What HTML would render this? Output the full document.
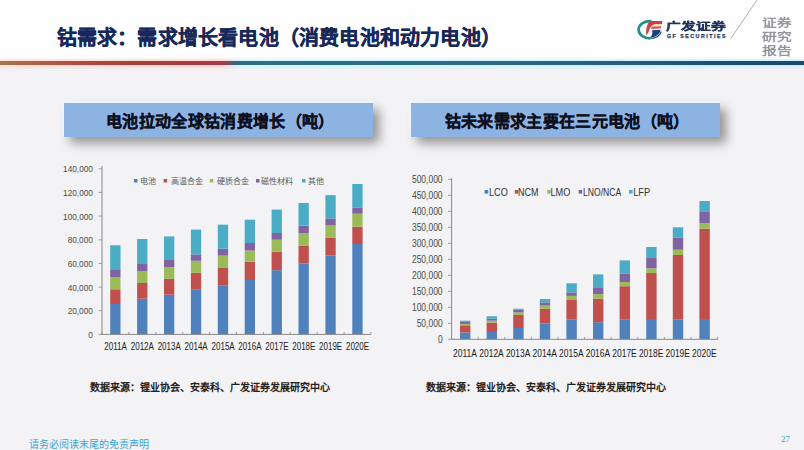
<!DOCTYPE html>
<html lang="zh-CN"><head><meta charset="utf-8">
<style>
*{margin:0;padding:0;box-sizing:border-box}
html,body{width:804px;height:450px;overflow:hidden}
body{position:relative;background:#f3f2f5;font-family:"Liberation Sans",sans-serif;color:#222}
.abs{position:absolute;white-space:nowrap}
#hdr{position:absolute;left:0;top:0;width:804px;height:62px;background:#fefefe}
#line{position:absolute;left:0;top:61px;width:804px;height:4px;
 background:linear-gradient(to right,#ad7350 0%,#b25c49 5%,#ab4642 12%,#a73e3e 17%,#aa3b45 26%,#a83a4a 27.6%,#2b6a82 29.4%,#2c7088 34%,#2b6b86 58%,#27607f 75%,#204c70 90%,#1e486c 100%);
 }
#halo{position:absolute;left:0;top:58.5px;width:804px;height:9px;filter:blur(1.2px);background:linear-gradient(to right,#fbe3d6 0%,#fbd9d6 28%,#d6f3fb 30%,#d0f0fa 100%)}
#title{left:56.5px;top:26.3px;font-size:20px;letter-spacing:0.21px;font-weight:bold;color:#17285a;line-height:24px;-webkit-text-stroke:0.35px #17285a}
.box{position:absolute;top:103px;width:309px;height:34px;background:#8db3e2;box-shadow:-1px -1px 0 1px rgba(236,246,255,.85),6px 6px 10px rgba(0,0,0,.4);
 font-size:16px;letter-spacing:0.33px;font-weight:bold;color:#0d1020;-webkit-text-stroke:0.3px #0d1020;text-align:center;line-height:37.5px;padding-left:3.5px}
.src{font-family:"Liberation Serif",serif;font-size:10px;font-weight:bold;color:#222;top:382px;line-height:12px}
#foot{left:28.5px;top:438.5px;font-family:"Liberation Serif",serif;font-size:10px;color:#3aa5d8;line-height:12px}
#pg{left:781px;top:433.5px;font-family:"Liberation Serif",serif;font-size:9px;color:#30a6b6;line-height:10px}
.zq{left:761.5px;font-size:14.8px;font-weight:bold;color:#9696a0;line-height:16px;transform:scaleY(0.8);transform-origin:0 0}
#gf{left:666px;top:21.2px;font-size:14.8px;font-weight:bold;color:#22355f;-webkit-text-stroke:0.45px #22355f;letter-spacing:0;line-height:16px;transform:scaleY(0.72);transform-origin:0 0}
#gfe{left:667px;top:33.6px;font-size:5.2px;font-weight:bold;color:#23345e;-webkit-text-stroke:0.25px #23345e;letter-spacing:1.55px;line-height:5px}
.leg{font-family:"Liberation Serif",serif;font-size:8px;color:#5a5a5a;line-height:10px}
svg text{font-family:"Liberation Sans",sans-serif}
</style></head><body>
<div id="hdr"></div>
<div id="halo"></div><div id="line"></div>
<div class="abs" id="title">钴需求：需求增长看电池（消费电池和动力电池）</div>
<svg class="abs" style="left:0;top:0" width="804" height="450" viewBox="0 0 804 450">
 <!-- logo -->
 <g>
  <path d="M651.5 21.2 C644 20.8 638.6 24.5 638.6 29.6 C638.6 34.6 643.5 38.2 650.5 38.3" fill="none" stroke="#23918c" stroke-width="2.7"/>
  <path d="M650.5 38.3 C656 38.2 660 35.5 661.2 31.5" fill="none" stroke="#1f5a80" stroke-width="1.2"/>
  <path d="M650 21 L662.5 21 L661.8 24.2 L654.5 24.3 C651.5 25 649.5 28 648.5 32 L646.5 35.5 C645.5 31 646.5 24 650 21 Z" fill="#cf3f3c"/>
  <path d="M651.5 26.6 L661.3 26.2 L660.6 28.6 L651 29 Z" fill="#d65a4f"/>
  <path d="M652 30.2 L660.5 29.8 C660 34.5 655.5 37.6 649.8 37.5 C652.5 35.5 652.8 33 652 30.2 Z" fill="#203f7d"/>
 </g>
 <line x1="730.7" y1="38.7" x2="757" y2="0" stroke="#9a9aa0" stroke-width="0.8"/>
 <!-- bars -->
 <rect x="110.2" y="304.0" width="10.3" height="30.4" fill="#4f81bd"/>
<rect x="110.2" y="289.3" width="10.3" height="14.7" fill="#c0504d"/>
<rect x="110.2" y="277.3" width="10.3" height="12.0" fill="#9bbb59"/>
<rect x="110.2" y="270.0" width="10.3" height="7.3" fill="#8064a2"/>
<rect x="110.2" y="245.3" width="10.3" height="24.7" fill="#4bacc6"/>
<rect x="137.1" y="298.7" width="10.3" height="35.7" fill="#4f81bd"/>
<rect x="137.1" y="283.0" width="10.3" height="15.7" fill="#c0504d"/>
<rect x="137.1" y="271.0" width="10.3" height="12.0" fill="#9bbb59"/>
<rect x="137.1" y="264.0" width="10.3" height="7.0" fill="#8064a2"/>
<rect x="137.1" y="239.0" width="10.3" height="25.0" fill="#4bacc6"/>
<rect x="164.0" y="294.7" width="10.3" height="39.7" fill="#4f81bd"/>
<rect x="164.0" y="278.7" width="10.3" height="16.0" fill="#c0504d"/>
<rect x="164.0" y="267.0" width="10.3" height="11.7" fill="#9bbb59"/>
<rect x="164.0" y="260.0" width="10.3" height="7.0" fill="#8064a2"/>
<rect x="164.0" y="236.4" width="10.3" height="23.6" fill="#4bacc6"/>
<rect x="190.9" y="289.7" width="10.3" height="44.7" fill="#4f81bd"/>
<rect x="190.9" y="272.8" width="10.3" height="16.9" fill="#c0504d"/>
<rect x="190.9" y="260.8" width="10.3" height="12.0" fill="#9bbb59"/>
<rect x="190.9" y="254.4" width="10.3" height="6.4" fill="#8064a2"/>
<rect x="190.9" y="229.6" width="10.3" height="24.8" fill="#4bacc6"/>
<rect x="217.8" y="285.3" width="10.3" height="49.1" fill="#4f81bd"/>
<rect x="217.8" y="268.0" width="10.3" height="17.3" fill="#c0504d"/>
<rect x="217.8" y="255.6" width="10.3" height="12.4" fill="#9bbb59"/>
<rect x="217.8" y="248.7" width="10.3" height="6.9" fill="#8064a2"/>
<rect x="217.8" y="224.7" width="10.3" height="24.0" fill="#4bacc6"/>
<rect x="244.7" y="280.0" width="10.3" height="54.4" fill="#4f81bd"/>
<rect x="244.7" y="261.7" width="10.3" height="18.3" fill="#c0504d"/>
<rect x="244.7" y="250.5" width="10.3" height="11.2" fill="#9bbb59"/>
<rect x="244.7" y="243.0" width="10.3" height="7.5" fill="#8064a2"/>
<rect x="244.7" y="219.7" width="10.3" height="23.3" fill="#4bacc6"/>
<rect x="271.6" y="270.2" width="10.3" height="64.2" fill="#4f81bd"/>
<rect x="271.6" y="251.8" width="10.3" height="18.4" fill="#c0504d"/>
<rect x="271.6" y="239.7" width="10.3" height="12.1" fill="#9bbb59"/>
<rect x="271.6" y="233.0" width="10.3" height="6.7" fill="#8064a2"/>
<rect x="271.6" y="209.6" width="10.3" height="23.4" fill="#4bacc6"/>
<rect x="298.5" y="263.4" width="10.3" height="71.0" fill="#4f81bd"/>
<rect x="298.5" y="245.5" width="10.3" height="17.9" fill="#c0504d"/>
<rect x="298.5" y="233.0" width="10.3" height="12.5" fill="#9bbb59"/>
<rect x="298.5" y="225.7" width="10.3" height="7.3" fill="#8064a2"/>
<rect x="298.5" y="203.0" width="10.3" height="22.7" fill="#4bacc6"/>
<rect x="325.4" y="255.5" width="10.3" height="78.9" fill="#4f81bd"/>
<rect x="325.4" y="237.5" width="10.3" height="18.0" fill="#c0504d"/>
<rect x="325.4" y="225.5" width="10.3" height="12.0" fill="#9bbb59"/>
<rect x="325.4" y="218.4" width="10.3" height="7.1" fill="#8064a2"/>
<rect x="325.4" y="195.2" width="10.3" height="23.2" fill="#4bacc6"/>
<rect x="352.3" y="244.0" width="10.3" height="90.4" fill="#4f81bd"/>
<rect x="352.3" y="226.7" width="10.3" height="17.3" fill="#c0504d"/>
<rect x="352.3" y="213.7" width="10.3" height="13.0" fill="#9bbb59"/>
<rect x="352.3" y="207.4" width="10.3" height="6.3" fill="#8064a2"/>
<rect x="352.3" y="184.0" width="10.3" height="23.4" fill="#4bacc6"/>
<rect x="460.0" y="332.5" width="10.4" height="6.8" fill="#4f81bd"/>
<rect x="460.0" y="325.3" width="10.4" height="7.2" fill="#c0504d"/>
<rect x="460.0" y="323.9" width="10.4" height="1.4" fill="#9bbb59"/>
<rect x="460.0" y="321.9" width="10.4" height="2.0" fill="#8064a2"/>
<rect x="460.0" y="320.7" width="10.4" height="1.2" fill="#4bacc6"/>
<rect x="486.6" y="332.0" width="10.4" height="7.3" fill="#4f81bd"/>
<rect x="486.6" y="322.6" width="10.4" height="9.4" fill="#c0504d"/>
<rect x="486.6" y="320.6" width="10.4" height="2.0" fill="#9bbb59"/>
<rect x="486.6" y="318.7" width="10.4" height="1.9" fill="#8064a2"/>
<rect x="486.6" y="316.2" width="10.4" height="2.5" fill="#4bacc6"/>
<rect x="513.2" y="328.0" width="10.4" height="11.3" fill="#4f81bd"/>
<rect x="513.2" y="314.9" width="10.4" height="13.1" fill="#c0504d"/>
<rect x="513.2" y="312.4" width="10.4" height="2.5" fill="#9bbb59"/>
<rect x="513.2" y="309.5" width="10.4" height="2.9" fill="#8064a2"/>
<rect x="513.2" y="308.7" width="10.4" height="0.8" fill="#4bacc6"/>
<rect x="539.8" y="323.6" width="10.4" height="15.7" fill="#4f81bd"/>
<rect x="539.8" y="308.7" width="10.4" height="14.9" fill="#c0504d"/>
<rect x="539.8" y="305.5" width="10.4" height="3.2" fill="#9bbb59"/>
<rect x="539.8" y="302.4" width="10.4" height="3.1" fill="#8064a2"/>
<rect x="539.8" y="299.0" width="10.4" height="3.4" fill="#4bacc6"/>
<rect x="566.4" y="319.7" width="10.4" height="19.6" fill="#4f81bd"/>
<rect x="566.4" y="300.0" width="10.4" height="19.7" fill="#c0504d"/>
<rect x="566.4" y="295.9" width="10.4" height="4.1" fill="#9bbb59"/>
<rect x="566.4" y="292.3" width="10.4" height="3.6" fill="#8064a2"/>
<rect x="566.4" y="283.3" width="10.4" height="9.0" fill="#4bacc6"/>
<rect x="593.0" y="322.2" width="10.4" height="17.1" fill="#4f81bd"/>
<rect x="593.0" y="298.8" width="10.4" height="23.4" fill="#c0504d"/>
<rect x="593.0" y="294.2" width="10.4" height="4.6" fill="#9bbb59"/>
<rect x="593.0" y="288.0" width="10.4" height="6.2" fill="#8064a2"/>
<rect x="593.0" y="274.4" width="10.4" height="13.6" fill="#4bacc6"/>
<rect x="619.6" y="319.7" width="10.4" height="19.6" fill="#4f81bd"/>
<rect x="619.6" y="286.2" width="10.4" height="33.5" fill="#c0504d"/>
<rect x="619.6" y="282.0" width="10.4" height="4.2" fill="#9bbb59"/>
<rect x="619.6" y="273.4" width="10.4" height="8.6" fill="#8064a2"/>
<rect x="619.6" y="260.4" width="10.4" height="13.0" fill="#4bacc6"/>
<rect x="646.2" y="319.0" width="10.4" height="20.3" fill="#4f81bd"/>
<rect x="646.2" y="273.0" width="10.4" height="46.0" fill="#c0504d"/>
<rect x="646.2" y="268.3" width="10.4" height="4.7" fill="#9bbb59"/>
<rect x="646.2" y="258.0" width="10.4" height="10.3" fill="#8064a2"/>
<rect x="646.2" y="247.0" width="10.4" height="11.0" fill="#4bacc6"/>
<rect x="672.8" y="319.3" width="10.4" height="20.0" fill="#4f81bd"/>
<rect x="672.8" y="255.0" width="10.4" height="64.3" fill="#c0504d"/>
<rect x="672.8" y="249.7" width="10.4" height="5.3" fill="#9bbb59"/>
<rect x="672.8" y="237.4" width="10.4" height="12.3" fill="#8064a2"/>
<rect x="672.8" y="227.3" width="10.4" height="10.1" fill="#4bacc6"/>
<rect x="699.4" y="319.0" width="10.4" height="20.3" fill="#4f81bd"/>
<rect x="699.4" y="228.7" width="10.4" height="90.3" fill="#c0504d"/>
<rect x="699.4" y="223.0" width="10.4" height="5.7" fill="#9bbb59"/>
<rect x="699.4" y="211.3" width="10.4" height="11.7" fill="#8064a2"/>
<rect x="699.4" y="201.0" width="10.4" height="10.3" fill="#4bacc6"/>

 <!-- axes -->
 <g stroke="#8a8a8a" stroke-width="1">
  <line x1="102" y1="166" x2="102" y2="334.4"/>
  <line x1="102" y1="334.4" x2="371" y2="334.4"/>
  <line x1="451.6" y1="178" x2="451.6" y2="339.3"/>
  <line x1="451.6" y1="339.3" x2="718" y2="339.3"/>
  
 </g>
 <g stroke="#8a8a8a" stroke-width="0.8">
 <line x1="98.5" y1="334.4" x2="102" y2="334.4"/><line x1="98.5" y1="310.7" x2="102" y2="310.7"/><line x1="98.5" y1="287.1" x2="102" y2="287.1"/><line x1="98.5" y1="263.4" x2="102" y2="263.4"/><line x1="98.5" y1="239.8" x2="102" y2="239.8"/><line x1="98.5" y1="216.1" x2="102" y2="216.1"/><line x1="98.5" y1="192.4" x2="102" y2="192.4"/><line x1="98.5" y1="168.8" x2="102" y2="168.8"/>
 <line x1="448" y1="339.3" x2="451.6" y2="339.3"/><line x1="448" y1="323.3" x2="451.6" y2="323.3"/><line x1="448" y1="307.3" x2="451.6" y2="307.3"/><line x1="448" y1="291.3" x2="451.6" y2="291.3"/><line x1="448" y1="275.3" x2="451.6" y2="275.3"/><line x1="448" y1="259.3" x2="451.6" y2="259.3"/><line x1="448" y1="243.3" x2="451.6" y2="243.3"/><line x1="448" y1="227.3" x2="451.6" y2="227.3"/><line x1="448" y1="211.3" x2="451.6" y2="211.3"/><line x1="448" y1="195.3" x2="451.6" y2="195.3"/><line x1="448" y1="179.3" x2="451.6" y2="179.3"/>
 <line x1="102.0" y1="331.9" x2="102.0" y2="334.4"/>
<line x1="128.9" y1="331.9" x2="128.9" y2="334.4"/>
<line x1="155.8" y1="331.9" x2="155.8" y2="334.4"/>
<line x1="182.7" y1="331.9" x2="182.7" y2="334.4"/>
<line x1="209.6" y1="331.9" x2="209.6" y2="334.4"/>
<line x1="236.5" y1="331.9" x2="236.5" y2="334.4"/>
<line x1="263.4" y1="331.9" x2="263.4" y2="334.4"/>
<line x1="290.3" y1="331.9" x2="290.3" y2="334.4"/>
<line x1="317.2" y1="331.9" x2="317.2" y2="334.4"/>
<line x1="344.1" y1="331.9" x2="344.1" y2="334.4"/>
<line x1="371.0" y1="331.9" x2="371.0" y2="334.4"/>
 <line x1="451.6" y1="336.8" x2="451.6" y2="339.3"/>
<line x1="478.2" y1="336.8" x2="478.2" y2="339.3"/>
<line x1="504.8" y1="336.8" x2="504.8" y2="339.3"/>
<line x1="531.4" y1="336.8" x2="531.4" y2="339.3"/>
<line x1="558.0" y1="336.8" x2="558.0" y2="339.3"/>
<line x1="584.6" y1="336.8" x2="584.6" y2="339.3"/>
<line x1="611.2" y1="336.8" x2="611.2" y2="339.3"/>
<line x1="637.8" y1="336.8" x2="637.8" y2="339.3"/>
<line x1="664.4" y1="336.8" x2="664.4" y2="339.3"/>
<line x1="691.0" y1="336.8" x2="691.0" y2="339.3"/>
<line x1="717.6" y1="336.8" x2="717.6" y2="339.3"/>
 </g>
 <g font-size="9.5" fill="#4a4a4a">
 <text transform="translate(92.9 337.8) scale(0.87 1)" text-anchor="end">0</text><text transform="translate(92.9 314.1) scale(0.87 1)" text-anchor="end">20,000</text><text transform="translate(92.9 290.5) scale(0.87 1)" text-anchor="end">40,000</text><text transform="translate(92.9 266.8) scale(0.87 1)" text-anchor="end">60,000</text><text transform="translate(92.9 243.2) scale(0.87 1)" text-anchor="end">80,000</text><text transform="translate(92.9 219.5) scale(0.87 1)" text-anchor="end">100,000</text><text transform="translate(92.9 195.8) scale(0.87 1)" text-anchor="end">120,000</text><text transform="translate(92.9 172.2) scale(0.87 1)" text-anchor="end">140,000</text>
 </g>
 <g font-size="10" fill="#4a4a4a">
 <text transform="translate(442.6 342.9) scale(0.85 1)" text-anchor="end">0</text><text transform="translate(442.6 326.9) scale(0.85 1)" text-anchor="end">50,000</text><text transform="translate(442.6 310.9) scale(0.85 1)" text-anchor="end">100,000</text><text transform="translate(442.6 294.9) scale(0.85 1)" text-anchor="end">150,000</text><text transform="translate(442.6 278.9) scale(0.85 1)" text-anchor="end">200,000</text><text transform="translate(442.6 262.9) scale(0.85 1)" text-anchor="end">250,000</text><text transform="translate(442.6 246.9) scale(0.85 1)" text-anchor="end">300,000</text><text transform="translate(442.6 230.9) scale(0.85 1)" text-anchor="end">350,000</text><text transform="translate(442.6 214.9) scale(0.85 1)" text-anchor="end">400,000</text><text transform="translate(442.6 198.9) scale(0.85 1)" text-anchor="end">450,000</text><text transform="translate(442.6 182.9) scale(0.85 1)" text-anchor="end">500,000</text>
 </g>
 <g font-size="10" fill="#222">
 <text transform="translate(115.5 350) scale(0.8 1)" text-anchor="middle">2011A</text>
<text transform="translate(142.3 350) scale(0.8 1)" text-anchor="middle">2012A</text>
<text transform="translate(169.2 350) scale(0.8 1)" text-anchor="middle">2013A</text>
<text transform="translate(196.1 350) scale(0.8 1)" text-anchor="middle">2014A</text>
<text transform="translate(223.1 350) scale(0.8 1)" text-anchor="middle">2015A</text>
<text transform="translate(249.9 350) scale(0.8 1)" text-anchor="middle">2016A</text>
<text transform="translate(276.9 350) scale(0.8 1)" text-anchor="middle">2017E</text>
<text transform="translate(303.8 350) scale(0.8 1)" text-anchor="middle">2018E</text>
<text transform="translate(330.6 350) scale(0.8 1)" text-anchor="middle">2019E</text>
<text transform="translate(357.5 350) scale(0.8 1)" text-anchor="middle">2020E</text>
 </g>
 <g font-size="11.6" fill="#1a1a1a">
 <text transform="translate(464.9 356.8) scale(0.73 1)" text-anchor="middle">2011A</text>
<text transform="translate(491.5 356.8) scale(0.73 1)" text-anchor="middle">2012A</text>
<text transform="translate(518.1 356.8) scale(0.73 1)" text-anchor="middle">2013A</text>
<text transform="translate(544.7 356.8) scale(0.73 1)" text-anchor="middle">2014A</text>
<text transform="translate(571.3 356.8) scale(0.73 1)" text-anchor="middle">2015A</text>
<text transform="translate(597.9 356.8) scale(0.73 1)" text-anchor="middle">2016A</text>
<text transform="translate(624.5 356.8) scale(0.73 1)" text-anchor="middle">2017E</text>
<text transform="translate(651.1 356.8) scale(0.73 1)" text-anchor="middle">2018E</text>
<text transform="translate(677.7 356.8) scale(0.73 1)" text-anchor="middle">2019E</text>
<text transform="translate(704.3 356.8) scale(0.73 1)" text-anchor="middle">2020E</text>
 </g>
 <!-- legends -->
 <rect x="134" y="179" width="3.5" height="3.5" fill="#4f81bd"/>
 <rect x="163.6" y="179" width="3.5" height="3.5" fill="#c0504d"/>
 <rect x="209.8" y="179" width="3.5" height="3.5" fill="#9bbb59"/>
 <rect x="256" y="179" width="3.5" height="3.5" fill="#8064a2"/>
 <rect x="302" y="179" width="3.5" height="3.5" fill="#4bacc6"/>
 <rect x="484.6" y="190" width="3.6" height="3.6" fill="#4f81bd"/>
 <rect x="514.8" y="190" width="3.6" height="3.6" fill="#c0504d"/>
 <rect x="547.2" y="190" width="3.6" height="3.6" fill="#9bbb59"/>
 <rect x="578.6" y="190" width="3.6" height="3.6" fill="#8064a2"/>
 <rect x="629" y="190" width="3.6" height="3.6" fill="#4bacc6"/>
 <g font-size="10" fill="#333">
  <text transform="translate(489 195.5) scale(0.92 1)">LCO</text>
  <text transform="translate(518 195.5) scale(0.9 1)">NCM</text>
  <text transform="translate(550.4 195.5) scale(0.92 1)">LMO</text>
  <text transform="translate(583 195.5) scale(0.86 1)">LNO/NCA</text>
  <text transform="translate(633.2 195.5) scale(0.92 1)">LFP</text>
 </g>
</svg>
<div class="abs leg" style="left:140.4px;top:176.8px">电池</div>
<div class="abs leg" style="left:170.5px;top:176.8px">高温合金</div>
<div class="abs leg" style="left:217px;top:176.8px">硬质合金</div>
<div class="abs leg" style="left:261px;top:176.8px">磁性材料</div>
<div class="abs leg" style="left:307.5px;top:176.8px">其他</div>
<div class="abs" id="gf">广发证券</div>
<div class="abs" id="gfe">GF SECURITIES</div>
<div class="abs zq" style="top:16.8px">证券</div><div class="abs zq" style="top:30.7px">研究</div><div class="abs zq" style="top:44.6px">报告</div>
<div class="box" style="left:64px">电池拉动全球钴消费增长（吨）</div>
<div class="box" style="left:411px">钴未来需求主要在三元电池（吨）</div>
<div class="abs src" style="left:89.7px">数据来源：锂业协会、安泰科、广发证券发展研究中心</div>
<div class="abs src" style="left:425.7px">数据来源：锂业协会、安泰科、广发证券发展研究中心</div>
<div class="abs" id="foot">请务必阅读末尾的免责声明</div>
<div class="abs" id="pg">27</div>
</body></html>
